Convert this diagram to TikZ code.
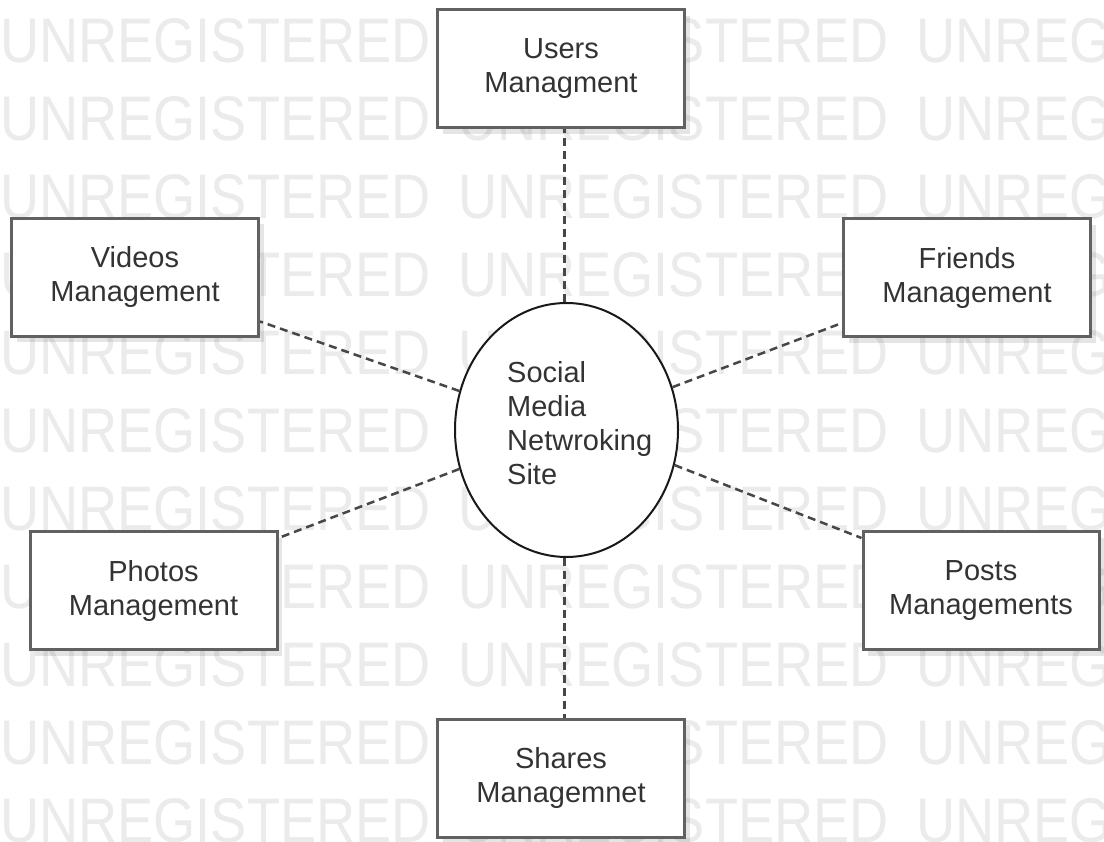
\documentclass[tikz,border=0pt]{standalone}
\usepackage{fontspec}
\setmainfont{Liberation Sans}
\usetikzlibrary{shapes.geometric,shadows,calc}
\begin{document}
\begin{tikzpicture}[x=1pt,y=1pt,
  module/.style={draw=black!62, line width=3pt, fill=white,
    minimum width=247pt, minimum height=118pt, inner sep=0pt,
    align=center, text=black!80, font=\fontsize{29}{34}\selectfont,
    drop shadow={shadow xshift=5pt, shadow yshift=-6pt, opacity=0.10, fill=black}},
  hub/.style={draw=black!90, line width=2pt, fill=white, ellipse,
    minimum width=223pt, minimum height=254pt, inner sep=0pt},
  link/.style={draw=black!72, line width=2.5pt, dash pattern=on 8pt off 5pt},
  watermark/.style={anchor=base west, inner sep=0pt, text=black!8,
    font=\fontsize{63}{63}\selectfont, xscale=0.86}
]
% canvas
\fill[white] (0,0) rectangle (1104,842);
\useasboundingbox (0,0) rectangle (1104,842);

% repeated background stamp
\foreach \k in {0,...,10}{
  \foreach \c in {0,1,2}{
    \node[watermark] (wm-\k-\c) at (\c*458, 779-78*\k) {UNREGISTERED};
  }
}

% modules
\node[module] (users)   at (561,773)   {Users\\Managment};
\node[module] (videos)  at (135,564.5) {Videos\\Management};
\node[module] (friends) at (967,564)   {Friends\\Management};
\node[module] (photos)  at (153.5,251) {Photos\\Management};
\node[module, minimum width=236pt] (posts) at (981,251) {Posts\\Managements};
\node[module] (shares)  at (561,63.5)  {Shares\\Managemnet};

% central system
\node[hub] (site) at (566.5,412) {};
\node[anchor=north west, align=left, inner sep=0pt, text=black!80,
      font=\fontsize{29}{34}\selectfont] (sitelabel) at (507,481)
      {Social\\Media\\Netwroking\\Site};

% dashed associations
\draw[link] ([xshift=-2pt]site.north) -- ([xshift=-2pt]site.north |- users.south);
\draw[link] ([xshift=-2pt]site.south) -- ([xshift=-2pt]site.south |- shares.north);
\draw[link] (site.160) -- ([yshift=-44pt]videos.east);
\draw[link] (site.200) -- ([yshift=53pt]photos.east);
\draw[link] (site.22)  -- ([yshift=-45pt]friends.west);
\draw[link] (site.-18) -- ([yshift=53pt]posts.west);
\end{tikzpicture}
\end{document}
